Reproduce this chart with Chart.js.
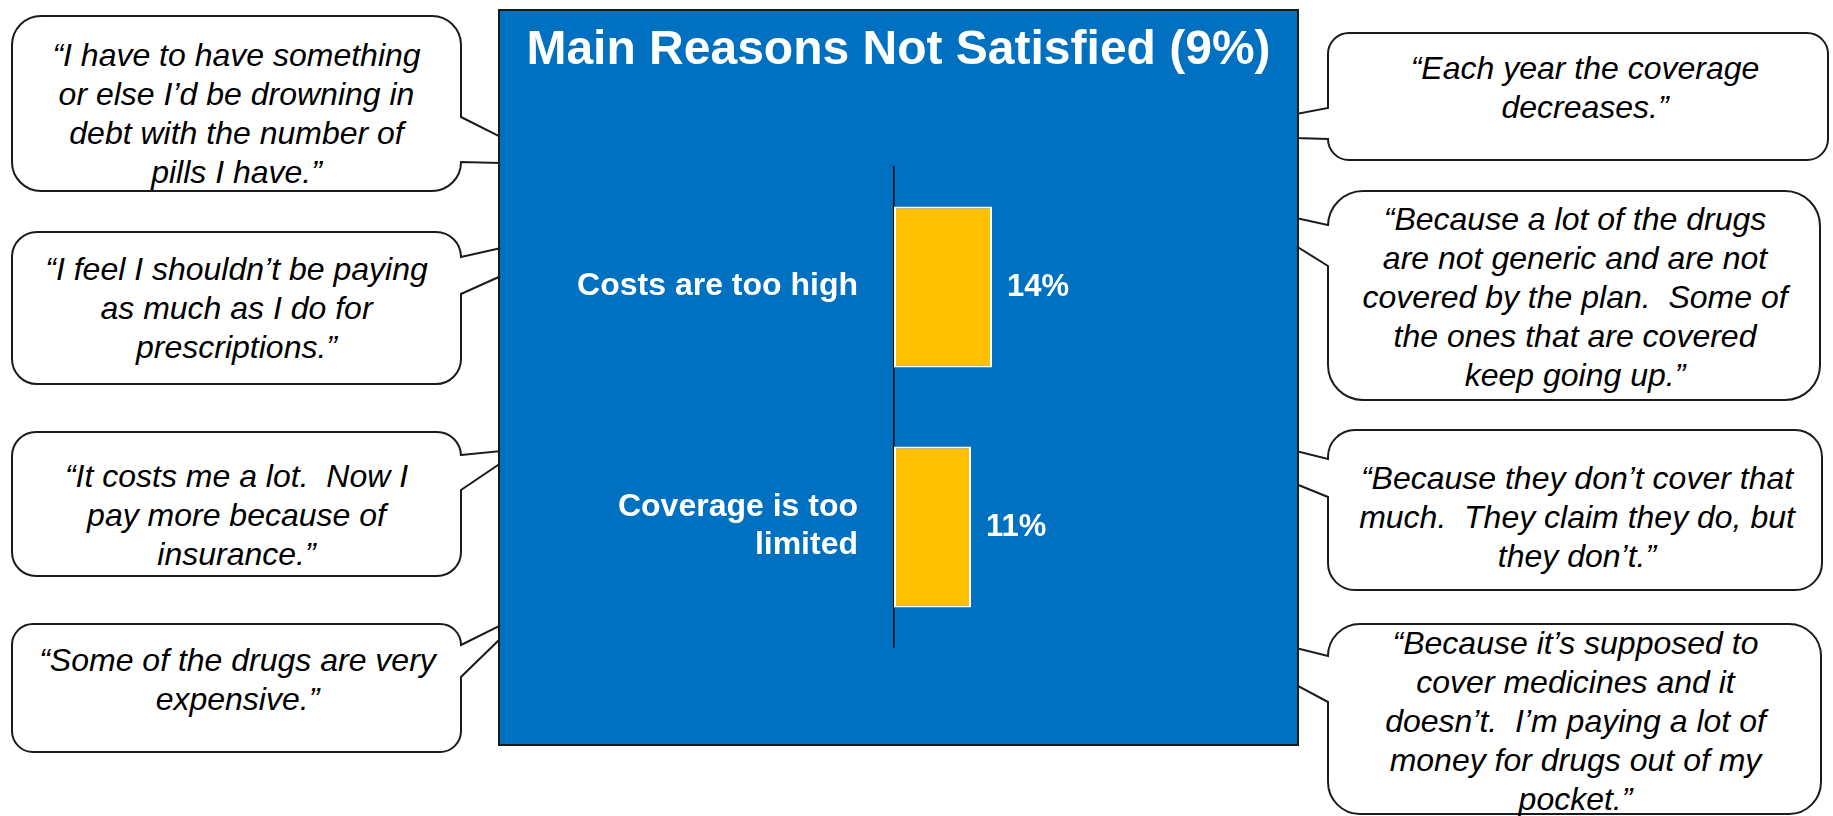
<!DOCTYPE html>
<html>
<head>
<meta charset="utf-8">
<script src="https://cdn.jsdelivr.net/npm/chart.js@4/dist/chart.umd.min.js"></script>
<style>
  html, body { margin: 0; padding: 0; background: #fff; }
  body { width: 1833px; height: 816px; position: relative; overflow: hidden; }
  #bubbles { position: absolute; left: 0; top: 0; }
  #panel {
    position: absolute; left: 498px; top: 9px; width: 797px; height: 733px;
    background: #0070C0; border: 2px solid #1b1b1b;
  }
  #panel canvas { position: absolute; left: 0; top: 0; }
  .quote {
    position: absolute; text-align: center; white-space: pre;
    font-family: 'Liberation Sans', Arial, sans-serif; font-style: italic;
    font-size: 32px; line-height: 39px; color: #000;
  }
</style>
</head>
<body>
<svg id="bubbles" width="1833" height="816"></svg>
<div id="panel"><canvas id="reasonsChart" width="797" height="733"></canvas></div>
<script>
// chart data
const titleText = 'Main Reasons Not Satisfied (9%)';
const categories = ['Costs are too high', ['Coverage is too', 'limited']];
const percents = [14, 11];

// verbatim quotes
const leftQuotes = [
  ['\u201CI have to have something', 'or else I\u2019d be drowning in', 'debt with the number of', 'pills I have.\u201D'],
  ['\u201CI feel I shouldn\u2019t be paying', 'as much as I do for', 'prescriptions.\u201D'],
  ['\u201CIt costs me a lot.  Now I', 'pay more because of', 'insurance.\u201D'],
  ['\u201CSome of the drugs are very', 'expensive.\u201D']
];
const rightQuotes = [
  ['\u201CEach year the coverage', 'decreases.\u201D'],
  ['\u201CBecause a lot of the drugs', 'are not generic and are not', 'covered by the plan.  Some of', 'the ones that are covered', 'keep going up.\u201D'],
  ['\u201CBecause they don\u2019t cover that', 'much.  They claim they do, but', 'they don\u2019t.\u201D'],
  ['\u201CBecause it\u2019s supposed to', 'cover medicines and it', 'doesn\u2019t.  I\u2019m paying a lot of', 'money for drugs out of my', 'pocket.\u201D']
];

// bubble layout: x, y, w, h, first baseline, text shift, wedge (box top, panel top, panel bottom, box bottom)
const leftBoxes = [
  { x: 12, y: 16, w: 449, h: 175, base: 67, dx: 0, wedge: [117, 137, 163, 162] },
  { x: 12, y: 232, w: 449, h: 152, base: 281, dx: 0, wedge: [257, 248, 276, 294] },
  { x: 12, y: 432, w: 449, h: 144, base: 488, dx: 0, wedge: [455, 451, 463, 490] },
  { x: 12, y: 624, w: 449, h: 128, base: 672, dx: 1, wedge: [645, 625, 638, 677] }
];
const rightBoxes = [
  { x: 1328, y: 33, w: 500, h: 127, base: 80, dx: 7, wedge: [108, 114, 138, 139] },
  { x: 1328, y: 191, w: 492, h: 209, base: 231, dx: 1, wedge: [225, 218, 246, 266] },
  { x: 1328, y: 430, w: 494, h: 160, base: 490, dx: 2, wedge: [459, 451, 484, 497] },
  { x: 1328, y: 624, w: 493, h: 190, base: 655, dx: 1, wedge: [656, 648, 685, 702] }
];
const panelLeft = 499, panelRight = 1298;

const svg = document.getElementById('bubbles');
function bubblePath(b, side) {
  const r = Math.round(Math.min(b.w, b.h) / 6);
  const L = b.x, R = b.x + b.w, T = b.y, B = b.y + b.h;
  const [wt, pt, pb, wb] = b.wedge;
  if (side === 'left') {
    return `M${R},${wt} L${panelLeft + 2},${pt} L${panelLeft + 2},${pb} L${R},${wb} L${R},${B - r} ` +
      `A${r},${r} 0 0 1 ${R - r},${B} L${L + r},${B} A${r},${r} 0 0 1 ${L},${B - r} ` +
      `L${L},${T + r} A${r},${r} 0 0 1 ${L + r},${T} L${R - r},${T} A${r},${r} 0 0 1 ${R},${T + r} Z`;
  }
  return `M${L},${wb} L${panelRight - 2},${pb} L${panelRight - 2},${pt} L${L},${wt} L${L},${T + r} ` +
    `A${r},${r} 0 0 1 ${L + r},${T} L${R - r},${T} A${r},${r} 0 0 1 ${R},${T + r} ` +
    `L${R},${B - r} A${r},${r} 0 0 1 ${R - r},${B} L${L + r},${B} A${r},${r} 0 0 1 ${L},${B - r} Z`;
}
function addBubble(b, lines, side) {
  const p = document.createElementNS('http://www.w3.org/2000/svg', 'path');
  p.setAttribute('d', bubblePath(b, side));
  p.setAttribute('fill', '#fff');
  p.setAttribute('stroke', '#1b1b1b');
  p.setAttribute('stroke-width', '2');
  svg.appendChild(p);
  const d = document.createElement('div');
  d.className = 'quote';
  d.style.left = (b.x + b.dx) + 'px';
  d.style.width = b.w + 'px';
  d.style.top = (b.base - 30.6) + 'px';
  d.textContent = lines.join('\n');
  document.body.appendChild(d);
}
leftBoxes.forEach((b, i) => addBubble(b, leftQuotes[i], 'left'));
rightBoxes.forEach((b, i) => addBubble(b, rightQuotes[i], 'right'));

const fontFamily = "'Liberation Sans', Arial, sans-serif";

// draw the percent next to each bar
const barLabels = {
  id: 'barLabels',
  afterDatasetsDraw(chart) {
    const ctx = chart.ctx;
    ctx.save();
    ctx.fillStyle = '#fff';
    ctx.font = `bold 31px ${fontFamily}`;
    ctx.textAlign = 'left';
    ctx.textBaseline = 'middle';
    chart.getDatasetMeta(0).data.forEach((bar, i) => {
      ctx.fillText(percents[i] + '%', bar.x + 15, bar.y);
    });
    ctx.restore();
  }
};

const ctx = document.getElementById('reasonsChart').getContext('2d');
const reasonsChart = new Chart(ctx, {
  type: 'bar',
  data: {
    labels: categories,
    datasets: [{
      data: percents,
      backgroundColor: '#FFC000',
      borderColor: '#ffffff',
      borderWidth: 2,
      borderSkipped: false,
      categoryPercentage: 1,
      barPercentage: 0.67
    }]
  },
  options: {
    indexAxis: 'y',
    responsive: false,
    animation: false,
    layout: { padding: { top: 0, bottom: 97, left: 3, right: 3 } },
    plugins: {
      legend: { display: false },
      tooltip: { enabled: false },
      title: {
        display: true,
        text: titleText,
        color: '#fff',
        font: { family: fontFamily, size: 48, weight: 'bold', lineHeight: 1.2 },
        padding: { top: 11, bottom: 87.4 }
      }
    },
    scales: {
      x: { display: false, min: 0, max: 57.14 },
      y: {
        grid: { display: false, drawTicks: false },
        border: { display: true, color: '#000', width: 1.5 },
        ticks: {
          color: '#fff',
          padding: 36,
          labelOffset: -1,
          font: { family: fontFamily, size: 32, weight: 'bold', lineHeight: 1.2 }
        },
        afterFit(scale) { scale.width = 391; }
      }
    }
  },
  plugins: [barLabels]
});
</script>
</body>
</html>
